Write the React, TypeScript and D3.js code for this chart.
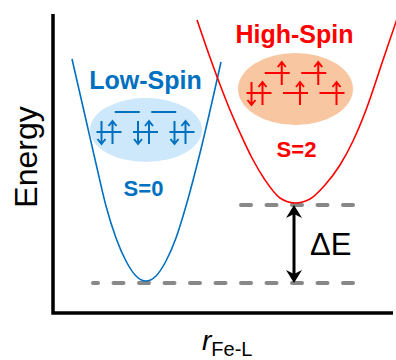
import React from 'react';
import * as d3 from 'd3';

const W = 396;
const H = 360;

// potential energy curves (r and E in plot units)
const lowSpinR = [19, 33, 44, 53, 63, 73, 83, 93, 103, 113, 123, 133, 147, 168];
const lowSpinE = [254, 193, 145, 107, 75, 52, 37, 32, 37, 52, 75, 107, 160, 251];
const highSpinR = [144, 154, 166, 177, 188, 199, 212, 227, 242, 257, 272, 287, 300, 313, 330, 345];
const highSpinE = [293, 264, 231, 203, 178, 155, 133, 115, 110, 114, 128, 148, 172, 203, 253, 297];

// dashed energy levels (minima) and their extent along r
const levelE = [30, 108];
const levelStart = [40, 185];
const levelEnd = [300, 300];

// d-orbital occupancies (bottom row t2g, top row eg)
const lsBottom = [2, 2, 2];
const lsTop = [0, 0];
const hsBottom = [2, 1, 1];
const hsTop = [1, 1];

const BLUE = '#0070C0';
const RED = '#FF0000';
const FONT = '"Liberation Sans", Arial, sans-serif';

const x = d3.scaleLinear().domain([0, 340]).range([53, 393]);
const y = d3.scaleLinear().domain([0, 300]).range([313, 13]);

const curve = d3
  .line<[number, number]>()
  .x(d => x(d[0]))
  .y(d => y(d[1]))
  .curve(d3.curveMonotoneX);

const zip = (a: number[], b: number[]) => a.map((v, i) => [v, b[i]] as [number, number]);

// little spin arrow: up or down, centred on the orbital line
const spin = (ax: number, ly: number, up: boolean, color: string, key: string) => {
  const top = ly - 11;
  const bot = ly + 12;
  const d = up
    ? `M${ax},${bot}V${top}M${ax - 4},${top + 5}L${ax},${top}L${ax + 4},${top + 5}`
    : `M${ax},${top}V${bot}M${ax - 4},${bot - 5}L${ax},${bot}L${ax + 4},${bot - 5}`;
  return <path key={key} d={d} fill="none" stroke={color} strokeWidth={2} />;
};

const Orbitals = ({ r, e, bottom, topRow, color }: any) => {
  const cx = x(r);
  const yb = y(e);
  const step = 36.5;
  const items: any[] = [];
  const row = (occ: number[], offset: number, ly: number, tag: string) => {
    occ.forEach((o, i) => {
      const s = cx + offset + i * step - 12.5;
      items.push(
        <line key={`${tag}l${i}`} x1={s} x2={s + 25} y1={ly} y2={ly} stroke={color} strokeWidth={2} />
      );
      if (o === 2) {
        items.push(spin(s + 5, ly, false, color, `${tag}d${i}`));
        items.push(spin(s + 16, ly, true, color, `${tag}u${i}`));
      } else if (o === 1) {
        items.push(spin(s + 17, ly, true, color, `${tag}u${i}`));
      }
    });
  };
  row(bottom, -step, yb, 'b');
  row(topRow, -step / 2, yb - 20, 't');
  return <g>{items}</g>;
};

export default function App() {
  const arrowX = x(241);
  const yHi = y(levelE[1]);
  const yLo = y(levelE[0]);

  return (
    <svg
      width={W}
      height={H}
      style={{ position: 'absolute', left: 0, top: 0, background: '#fff' }}
      fontFamily={FONT}
    >
      {/* spin-state bubbles */}
      <ellipse cx={x(93)} cy={y(183)} rx={56} ry={32} fill="#CDE8FA" />
      <ellipse cx={x(242.5)} cy={y(224)} rx={57.5} ry={36} fill="#F8C6A0" />

      {/* dashed minima */}
      {levelE.map((e, i) => (
        <line
          key={i}
          x1={x(levelEnd[i])}
          x2={x(levelStart[i])}
          y1={y(e)}
          y2={y(e)}
          stroke="#888"
          strokeWidth={4}
          strokeLinecap="round"
          strokeDasharray="10,15.5"
        />
      ))}

      {/* curves */}
      <path d={curve(zip(lowSpinR, lowSpinE)) || ''} fill="none" stroke={BLUE} strokeWidth={1.6} />
      <path d={curve(zip(highSpinR, highSpinE)) || ''} fill="none" stroke={RED} strokeWidth={1.6} />

      {/* axes */}
      <path
        d={`M${x(0)},${y(299)}V${y(0)}H${x(340)}`}
        fill="none"
        stroke="#000"
        strokeWidth={3.5}
        strokeLinejoin="miter"
      />

      {/* ΔE double arrow */}
      <line x1={arrowX} x2={arrowX} y1={yHi + 8} y2={yLo - 8} stroke="#000" strokeWidth={3} />
      <path
        d={`M${arrowX},${yHi}L${arrowX - 8},${yHi + 13}L${arrowX},${yHi + 9}L${arrowX + 8},${yHi + 13}Z`}
        fill="#000"
      />
      <path
        d={`M${arrowX},${yLo}L${arrowX - 8},${yLo - 13}L${arrowX},${yLo - 9}L${arrowX + 8},${yLo - 13}Z`}
        fill="#000"
      />
      <text x={x(257)} y={y(58)} fontSize={31} fill="#000">
        ΔE
      </text>

      {/* orbitals */}
      <Orbitals r={92.5} e={181} bottom={lsBottom} topRow={lsTop} color={BLUE} />
      <Orbitals r={242.5} e={220} bottom={hsBottom} topRow={hsTop} color={RED} />

      {/* labels */}
      <text x={x(92.5)} y={y(224)} textAnchor="middle" fontSize={25} fontWeight="bold" fill={BLUE}>
        Low-Spin
      </text>
      <text x={x(90.5)} y={y(117)} textAnchor="middle" fontSize={22} fontWeight="bold" fill={BLUE}>
        S=0
      </text>
      <text x={x(241.5)} y={y(270)} textAnchor="middle" fontSize={25} fontWeight="bold" fill={RED}>
        High-Spin
      </text>
      <text x={x(243.5)} y={y(156)} textAnchor="middle" fontSize={22} fontWeight="bold" fill={RED}>
        S=2
      </text>

      {/* axis titles */}
      <text transform="translate(37,157) rotate(-90)" textAnchor="middle" fontSize={32} fill="#000">
        Energy
      </text>
      <text x={202} y={350} fontSize={28} fontStyle="italic" fill="#000">
        r
        <tspan fontSize={20} fontStyle="normal" dy={6}>
          Fe-L
        </tspan>
      </text>
    </svg>
  );
}
